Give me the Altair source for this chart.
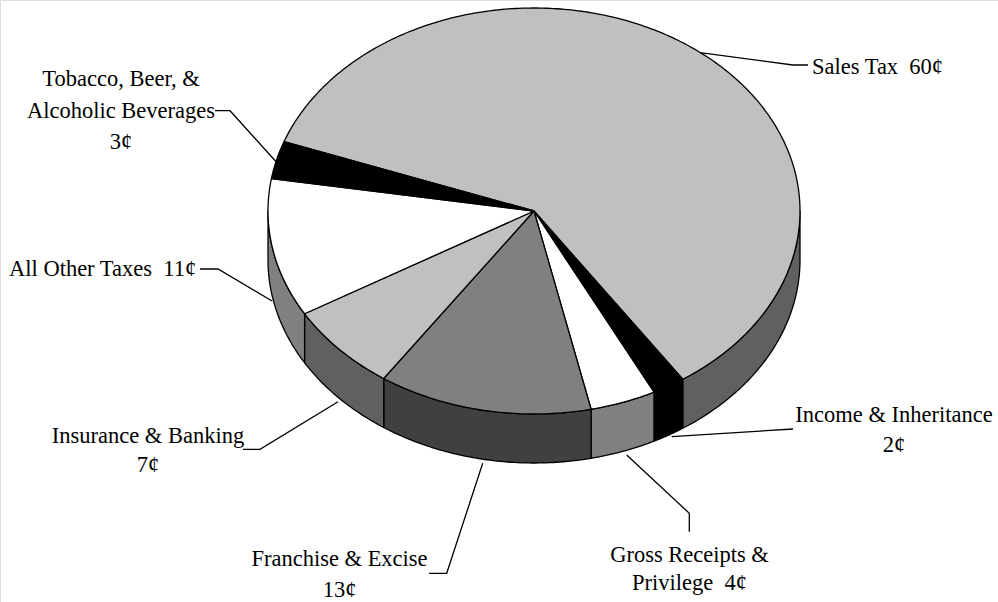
import altair as alt
import numpy as np
import pandas as pd

# ---- data ----
categories = [
    "Sales Tax",
    "Income & Inheritance",
    "Gross Receipts & Privilege",
    "Franchise & Excise",
    "Insurance & Banking",
    "All Other Taxes",
    "Tobacco, Beer, & Alcoholic Beverages",
]
values = [60, 2, 4, 13, 7, 11, 3]
label_templates = [
    ["Sales Tax\u00a0 {v}¢"],
    ["Income & Inheritance", "{v}¢"],
    ["Gross Receipts &", "Privilege\u00a0 {v}¢"],
    ["Franchise & Excise", "{v}¢"],
    ["Insurance & Banking", "{v}¢"],
    ["All Other Taxes\u00a0 {v}¢"],
    ["Tobacco, Beer, &", "Alcoholic Beverages", "{v}¢"],
]

# ---- styles ----
top_colors = ["#c0c0c0", "#000000", "#ffffff", "#808080", "#c0c0c0", "#ffffff", "#000000"]
side_colors = ["#606060", "#000000", "#808080", "#404040", "#606060", "#808080", "#000000"]

# ---- layout (pie projection and label placement) ----
W, H = 998, 602
CX, CY, RX, RY, DEPTH = 534, 211, 266, 203, 49
START = 290.0  # degrees clockwise from 12 o'clock
label_pos = [  # (x, first baseline, align, line spacing)
    (812, 74, "left", 30),
    (894, 421.7, "center", 30),
    (689.5, 561.7, "center", 28.5),
    (339.5, 566, "center", 30.5),
    (148, 442.7, "center", 29),
    (9, 276, "left", 30),
    (121, 86, "center", 31.5),
]
leader_pts = [
    [(700, 52.7), (793, 65), (808, 65)],
    [(793, 429), (671.7, 436.7)],
    [(689.3, 531.7), (689.3, 513.3), (626.7, 455)],
    [(429, 573.3), (446.7, 573.3), (482.7, 463.3)],
    [(243, 449.3), (260, 449.3), (338, 401.7)],
    [(200, 269), (218, 269), (272, 301)],
    [(215, 110.7), (230, 110.7), (277, 162.7)],
]


def pt(theta, dy=0.0):
    t = np.radians(theta)
    return CX + RX * np.sin(t), CY - RY * np.cos(t) + dy


def arc(a, b, dy=0.0):
    n = max(2, int(abs(b - a) / 0.75) + 1)
    return [pt(t, dy) for t in np.linspace(a, b, n)]


total = float(sum(values))
bounds = np.concatenate([[0], np.cumsum(values)]) / total * 360.0 + START

top_rows, wall_rows = [], []
for k, cat in enumerate(categories):
    a0, a1 = bounds[k], bounds[k + 1]
    pts = [(CX, CY)] + arc(a0, a1) + [(CX, CY)]
    for i, (x, y) in enumerate(pts):
        top_rows.append({"poly": f"t{k}", "i": i, "x": x, "y": y, "fill": top_colors[k]})
    # visible front wall: angles in [90, 270] (mod 360)
    for base in (0, 360, 720):
        lo, hi = max(a0, 90 + base), min(a1, 270 + base)
        if hi > lo:
            wp = arc(lo, hi) + arc(hi, lo, DEPTH)
            wp.append(wp[0])
            for i, (x, y) in enumerate(wp):
                wall_rows.append({"poly": f"w{k}_{base}", "i": i, "x": x, "y": y, "fill": side_colors[k]})

top_df = pd.DataFrame(top_rows)
wall_df = pd.DataFrame(wall_rows)

text_rows = []
for k, v in enumerate(values):
    x, y0, align, sp = label_pos[k]
    for j, line in enumerate(label_templates[k]):
        text_rows.append({"x": x, "y": y0 + j * sp, "align": align, "text": line.format(v=v)})
text_df = pd.DataFrame(text_rows)

lead_rows = []
for k, pts in enumerate(leader_pts):
    for i, (x, y) in enumerate(pts):
        lead_rows.append({"lead": k, "i": i, "x": x, "y": y})
lead_df = pd.DataFrame(lead_rows)

xs = alt.Scale(domain=[0, W], range=[0, W])
ys = alt.Scale(domain=[0, H], range=[0, H])


def poly_layer(df):
    return alt.Chart(df).mark_line(stroke="black", strokeWidth=1.3, strokeJoin="round").encode(
        x=alt.X("x:Q", scale=xs, axis=None),
        y=alt.Y("y:Q", scale=ys, axis=None),
        detail="poly:N",
        order="i:Q",
        fill=alt.Fill("fill:N", scale=None),
    )


walls = poly_layer(wall_df)
tops = poly_layer(top_df)

leaders = alt.Chart(lead_df).mark_line(color="black", strokeWidth=1.3).encode(
    x=alt.X("x:Q", scale=xs, axis=None),
    y=alt.Y("y:Q", scale=ys, axis=None),
    detail="lead:N",
    order="i:Q",
)

text_left = alt.Chart(text_df[text_df["align"] == "left"]).mark_text(
    align="left", baseline="alphabetic", font="Liberation Serif", fontSize=22.5, color="black"
).encode(x=alt.X("x:Q", scale=xs, axis=None), y=alt.Y("y:Q", scale=ys, axis=None), text="text:N")
text_center = alt.Chart(text_df[text_df["align"] == "center"]).mark_text(
    align="center", baseline="alphabetic", font="Liberation Serif", fontSize=22.5, color="black"
).encode(x=alt.X("x:Q", scale=xs, axis=None), y=alt.Y("y:Q", scale=ys, axis=None), text="text:N")

chart = (
    alt.layer(walls, tops, leaders, text_left, text_center)
    .properties(width=W, height=H, padding=0, autosize=alt.AutoSizeParams(type="none"))
    .configure_view(stroke=None)
    .configure(background="white")
)

chart.save("out.html", embed_options={"renderer": "svg", "actions": False})
